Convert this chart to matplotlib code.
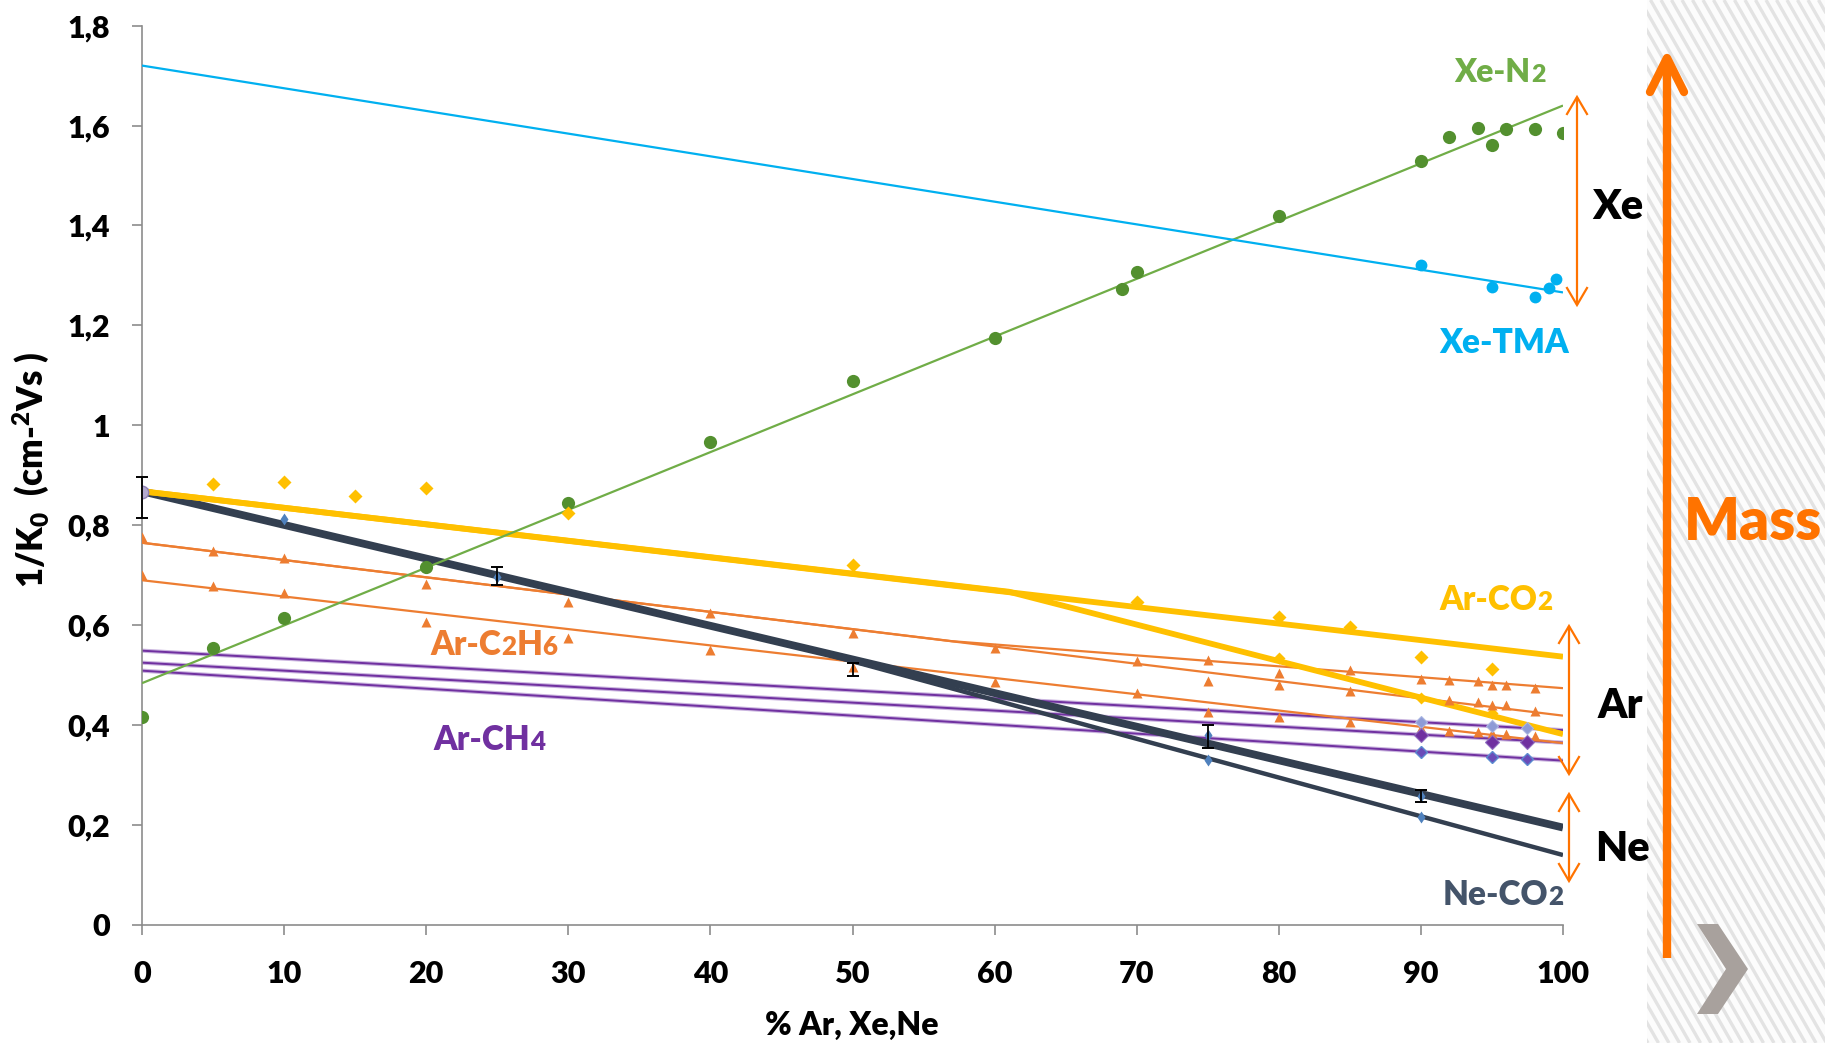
import numpy as np
import matplotlib
matplotlib.use("Agg")
import matplotlib.pyplot as plt
from matplotlib.patches import Polygon, Rectangle
from matplotlib.lines import Line2D

plt.rcParams['font.family'] = ['Lato', 'DejaVu Sans']
plt.rcParams['mathtext.fontset'] = 'custom'
plt.rcParams['mathtext.rm'] = 'Lato:heavy'
plt.rcParams['mathtext.it'] = 'Lato:heavy'
plt.rcParams['mathtext.bf'] = 'Lato:heavy'

WEIGHT = 'heavy'

# ---------------- data ----------------
x_ticks = [0, 10, 20, 30, 40, 50, 60, 70, 80, 90, 100]
y_ticks = [0, 0.2, 0.4, 0.6, 0.8, 1.0, 1.2, 1.4, 1.6, 1.8]
y_tick_labels = ['0', '0,2', '0,4', '0,6', '0,8', '1', '1,2', '1,4', '1,6', '1,8']

# Xe-N2 measurements and linear trend
xen2_x = [0, 5, 10, 20, 30, 40, 50, 60, 69, 70, 80, 90, 92, 94, 95, 96, 98, 100]
xen2_y = [0.416, 0.554, 0.614, 0.716, 0.844, 0.966, 1.088, 1.174, 1.272, 1.306,
          1.418, 1.529, 1.577, 1.596, 1.562, 1.594, 1.593, 1.586]
xen2_fit_x = [0, 100]
xen2_fit_y = [0.484, 1.640]

# Xe-TMA measurements and linear trend
xetma_x = [90, 95, 98, 99, 99.5]
xetma_y = [1.321, 1.277, 1.257, 1.274, 1.292]
xetma_fit_x = [0, 100]
xetma_fit_y = [1.720, 1.266]

# Ar-CO2 measurements and two model curves
arco2_x = [5, 10, 15, 20, 30, 50, 70, 80, 85, 90, 95]
arco2_y = [0.882, 0.886, 0.858, 0.874, 0.825, 0.720, 0.647, 0.617, 0.597, 0.537, 0.512]
arco2_b_pts_x = [80, 90, 95]
arco2_b_pts_y = [0.534, 0.454, 0.424]
arco2_model_a_x = [0, 100]
arco2_model_a_y = [0.868, 0.537]
arco2_model_b_x = [0, 61, 100]
arco2_model_b_y = [0.868, 0.667, 0.382]

# Ar-C2H6 measurements (three series) and model curves
arc2h6_1_x = [0, 5, 10, 20, 30, 40, 50, 60, 70, 75, 80, 85, 90, 92, 94, 95, 96, 98]
arc2h6_1_y = [0.776, 0.749, 0.734, 0.682, 0.647, 0.624, 0.584, 0.554, 0.528, 0.530,
              0.504, 0.510, 0.492, 0.490, 0.489, 0.481, 0.481, 0.474]
arc2h6_2_x = [75, 80, 85, 92, 94, 95, 96, 98]
arc2h6_2_y = [0.489, 0.480, 0.468, 0.450, 0.447, 0.441, 0.440, 0.428]
arc2h6_3_x = [0, 5, 10, 20, 30, 40, 50, 60, 70, 75, 80, 85, 90, 92, 94, 95, 96, 98]
arc2h6_3_y = [0.700, 0.678, 0.664, 0.606, 0.574, 0.550, 0.517, 0.487, 0.464, 0.427,
              0.417, 0.406, 0.394, 0.389, 0.386, 0.384, 0.383, 0.379]
arc2h6_model_a_x = [0, 57, 100]
arc2h6_model_a_y = [0.765, 0.568, 0.474]
arc2h6_model_b_x = [0, 100]
arc2h6_model_b_y = [0.765, 0.419]
arc2h6_model_c_x = [0, 100]
arc2h6_model_c_y = [0.690, 0.364]

# Ar-CH4 measurements (three series) and linear trends
arch4_x = [90, 95, 97.5]
arch4_1_y = [0.406, 0.399, 0.394]
arch4_2_y = [0.380, 0.367, 0.367]
arch4_3_y = [0.347, 0.337, 0.332]
arch4_fit_x = [0, 100]
arch4_fit_1_y = [0.549, 0.390]
arch4_fit_2_y = [0.525, 0.365]
arch4_fit_3_y = [0.509, 0.329]

# Ne-CO2 measurements, error bars and model curves
neco2_x = [10, 25, 75, 75, 90, 90]
neco2_y = [0.812, 0.697, 0.380, 0.331, 0.258, 0.217]
neco2_err_x = [0, 25, 50, 75, 90]
neco2_err_y = [0.855, 0.698, 0.511, 0.377, 0.258]
neco2_err = [0.041, 0.018, 0.013, 0.023, 0.012]
neco2_model_a_x = [0, 100]
neco2_model_a_y = [0.868, 0.195]
neco2_model_b_x = [0, 47, 100]
neco2_model_b_y = [0.868, 0.551, 0.140]

# pure-gas starting point
start_x = [0]
start_y = [0.867]

# ---------------- colours ----------------
c_green_line = '#70AD47'
c_green_dot = '#53902F'
c_blue = '#00B0F0'
c_gold = '#FFC000'
c_orange = '#ED7D31'
c_purple = '#7030A0'
c_dark = '#333F50'
c_ne_text = '#44546A'
c_ne_pts = '#4F81BD'
c_arrow = '#FF7300'

W, H = 1825, 1043
fig = plt.figure(figsize=(W / 100, H / 100), dpi=100)
fig.patch.set_facecolor('white')

# ---------------- background panel on the right ----------------
bg = fig.add_axes([0, 0, 1, 1], zorder=0)
bg.set_xlim(0, W)
bg.set_ylim(H, 0)
bg.axis('off')
panel_x0 = 1647
panel = Rectangle((panel_x0, 0), W - panel_x0, H, facecolor='#FCFCFC', edgecolor='none')
bg.add_patch(panel)
slope = 1.75
for xs in np.arange(panel_x0 - H / slope - 20, W + 20, 10.5):
    ln = Line2D([xs, xs + H / slope], [0, H], color='#E3E3E3', lw=2.4,
                solid_capstyle='butt')
    bg.add_line(ln)
    ln.set_clip_path(panel)

# ---------------- main chart ----------------
ax = fig.add_axes([142 / W, (H - 925) / H, (1563 - 142) / W, (925 - 25.6) / H], zorder=2)
ax.patch.set_alpha(0)
ax.set_xlim(0, 100)
ax.set_ylim(0, 1.8)

# purple trend lines
for fy in (arch4_fit_1_y, arch4_fit_2_y, arch4_fit_3_y):
    ax.plot(arch4_fit_x, fy, color='#C9B3DE', lw=3.0, zorder=2, solid_capstyle='butt')
    ax.plot(arch4_fit_x, fy, color=c_purple, lw=1.4, zorder=2.1, solid_capstyle='butt')

# orange model curves
for mx, my in ((arc2h6_model_a_x, arc2h6_model_a_y),
               (arc2h6_model_b_x, arc2h6_model_b_y),
               (arc2h6_model_c_x, arc2h6_model_c_y)):
    ax.plot(mx, my, color=c_orange, lw=1.6, zorder=3, solid_capstyle='butt')

# Ne-CO2 model curves
ax.plot(neco2_model_a_x, neco2_model_a_y, color=c_dark, lw=5.6, zorder=4, solid_capstyle='butt')
ax.plot(neco2_model_b_x, neco2_model_b_y, color=c_dark, lw=3.2, zorder=4, solid_capstyle='butt')

# Ar-CO2 model curves
ax.plot(arco2_model_a_x, arco2_model_a_y, color=c_gold, lw=4.2, zorder=5, solid_capstyle='butt')
ax.plot(arco2_model_b_x, arco2_model_b_y, color=c_gold, lw=4.2, zorder=5, solid_capstyle='butt')

# Xe trends
ax.plot(xen2_fit_x, xen2_fit_y, color=c_green_line, lw=1.6, zorder=6, solid_capstyle='butt')
ax.plot(xetma_fit_x, xetma_fit_y, color=c_blue, lw=1.6, zorder=6, solid_capstyle='butt')

# markers
ax.plot(start_x, start_y, 'o', ms=9, color='#B3A9CF', mec='#8E80B5', mew=1, zorder=6.5)
ax.plot(xen2_x, xen2_y, 'o', ms=9.5, color=c_green_dot, mec='none', zorder=7)
ax.plot(xetma_x, xetma_y, 'o', ms=8.5, color=c_blue, mec='none', zorder=7)
ax.plot(arco2_x, arco2_y, 'D', ms=7.5, color=c_gold, mec='none', zorder=7)
ax.plot(arco2_b_pts_x, arco2_b_pts_y, 'D', ms=6, color=c_gold, mec='none', zorder=7)
for tx, ty in ((arc2h6_1_x, arc2h6_1_y), (arc2h6_2_x, arc2h6_2_y), (arc2h6_3_x, arc2h6_3_y)):
    ax.plot(tx, ty, '^', ms=7.5, color=c_orange, mec='none', zorder=7)
ax.plot(arch4_x, arch4_1_y, 'D', ms=6, color='#8E9BD6', mec='#A9B6E2', mew=0.8, zorder=7)
ax.plot(arch4_x, arch4_2_y, 'D', ms=7, color=c_purple, mec='#8E6CC0', mew=0.8, zorder=7)
ax.plot(arch4_x, arch4_3_y, 'D', ms=6.5, color='#6A4CB8', mec='#5B8BD0', mew=1, zorder=7)
ax.plot(neco2_x, neco2_y, 'd', ms=6, color=c_ne_pts, mec='none', zorder=7)
ax.errorbar(neco2_err_x, neco2_err_y, yerr=neco2_err, fmt='none', ecolor='black',
            elinewidth=1.3, capsize=4.5, capthick=1.4, zorder=8, clip_on=False)

# axes styling
for side in ('top', 'right'):
    ax.spines[side].set_visible(False)
for side in ('left', 'bottom'):
    ax.spines[side].set_color('#8C8C8C')
    ax.spines[side].set_linewidth(1.2)
ax.set_xticks(x_ticks)
ax.set_xticklabels([str(v) for v in x_ticks])
ax.set_yticks(y_ticks)
ax.set_yticklabels(y_tick_labels)
ax.tick_params(axis='both', direction='out', length=7, width=1.2, color='#8C8C8C',
               labelsize=22, labelcolor='black')
ax.tick_params(axis='x', pad=18)
ax.tick_params(axis='y', pad=16)
for lab in ax.get_xticklabels() + ax.get_yticklabels():
    lab.set_fontweight(WEIGHT)

fig.text(31 / W, 1 - 470 / H, r'1/K$_{0}$  (cm-$^{2}$Vs )', rotation=90,
         fontsize=25, fontweight=WEIGHT, ha='center', va='center')
fig.text(852 / W, 1 - 1025 / H, '% Ar, Xe,Ne', fontsize=23, fontweight=WEIGHT,
         ha='center', va='center')

# ---------------- annotations overlay ----------------
ov = fig.add_axes([0, 0, 1, 1], zorder=5)
ov.set_xlim(0, W)
ov.set_ylim(H, 0)
ov.axis('off')
ov.patch.set_alpha(0)

renderer = fig.canvas.get_renderer()


def series_label(cx, baseline, parts, color, size):
    texts = []
    for s, sc in parts:
        t = ov.text(0, baseline, s, fontsize=size * sc, fontweight=WEIGHT,
                    color=color, ha='left', va='baseline')
        texts.append(t)
    widths = [t.get_window_extent(renderer).width for t in texts]
    x = cx - sum(widths) / 2
    for t, w in zip(texts, widths):
        t.set_x(x)
        x += w


series_label(1500, 82, [('Xe-N', 1), ('2', 0.78)], c_green_line, 23)
series_label(1504, 353, [('Xe-TMA', 1)], c_blue, 24)
series_label(1496, 610, [('Ar-CO', 1), ('2', 0.78)], c_gold, 24)
series_label(494, 655, [('Ar-C', 1), ('2', 0.78), ('H', 1), ('6', 0.78)], c_orange, 24)
series_label(489, 750, [('Ar-CH', 1), ('4', 0.78)], c_purple, 24)
series_label(1503, 905, [('Ne-CO', 1), ('2', 0.78)], c_ne_text, 24)


def double_arrow(x, y0, y1, hw=10, hl=17, lw=1.6):
    ov.plot([x, x], [y0, y1], color=c_arrow, lw=lw, solid_capstyle='butt')
    ov.plot([x - hw, x, x + hw], [y0 + hl, y0, y0 + hl], color=c_arrow, lw=lw,
            solid_joinstyle='miter')
    ov.plot([x - hw, x, x + hw], [y1 - hl, y1, y1 - hl], color=c_arrow, lw=lw,
            solid_joinstyle='miter')


double_arrow(1577, 97, 305)
double_arrow(1569, 626, 774)
double_arrow(1569, 794, 881)

for txt, cx, base in (('Xe', 1618, 219), ('Ar', 1620, 718), ('Ne', 1622, 861)):
    ov.text(cx, base, txt, fontsize=30, fontweight=WEIGHT, color='black',
            ha='center', va='baseline')

# big "Mass" arrow
ov.plot([1667, 1667], [958, 62], color=c_arrow, lw=6, solid_capstyle='butt')
ov.plot([1650, 1667, 1684], [92, 58, 92], color=c_arrow, lw=6,
        solid_capstyle='round', solid_joinstyle='round')
ov.text(1684, 540, 'Mass', fontsize=42, fontweight=WEIGHT, color=c_arrow,
        ha='left', va='baseline', clip_on=False)

# chevron
chev = Polygon([(1697, 924), (1718, 924), (1748, 969), (1718, 1014), (1697, 1014), (1726, 969)],
               closed=True, facecolor='#A8A19D', edgecolor='none')
ov.add_patch(chev)

fig.savefig('out.png', dpi=100)
